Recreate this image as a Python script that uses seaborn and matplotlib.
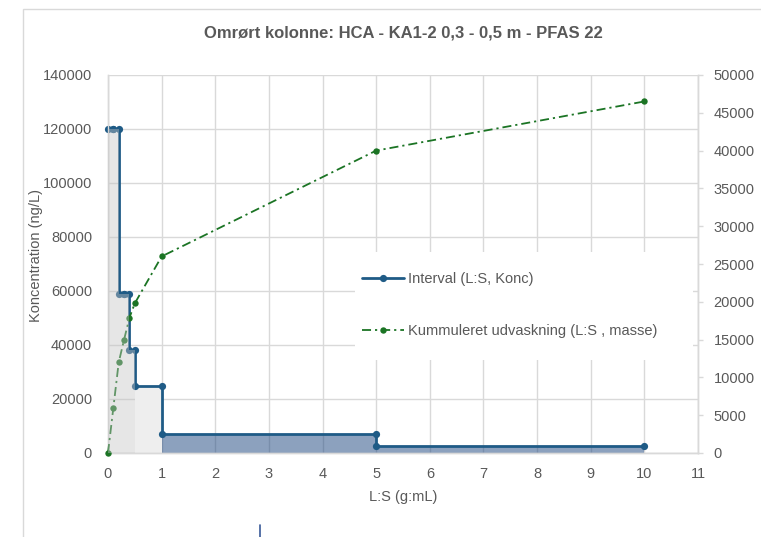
import matplotlib
matplotlib.use("Agg")
import matplotlib.pyplot as plt
import seaborn as sns
import pandas as pd
from matplotlib.patches import Rectangle
from matplotlib.lines import Line2D

# ---------------- data ----------------
title = "Omrørt kolonne: HCA - KA1-2 0,3 - 0,5 m - PFAS 22"
x_label = "L:S (g:mL)"
y_label = "Koncentration (ng/L)"
interval_label = "Interval (L:S, Konc)"
cum_label = "Kummuleret udvaskning (L:S , masse)"

ls_start = [0.0, 0.1, 0.2, 0.3, 0.4, 0.5, 1.0, 5.0]
ls_end = [0.1, 0.2, 0.3, 0.4, 0.5, 1.0, 5.0, 10.0]
conc = [120000, 120000, 59000, 59000, 38000, 25000, 7000, 2600]

cum_ls = [0.0, 0.1, 0.2, 0.3, 0.4, 0.5, 1.0, 5.0, 10.0]
cum_mass = [0, 6000, 12000, 15000, 17900, 19800, 26000, 40000, 46500]

x_ticks = list(range(0, 12))
left_ticks = [0, 20000, 40000, 60000, 80000, 100000, 120000, 140000]
right_ticks = [0, 5000, 10000, 15000, 20000, 25000, 30000, 35000, 40000, 45000, 50000]

# ---------------- style ----------------
BLUE = "#1f5b86"
GREEN = "#1b7424"
FILL_BLUE = "#1a447f"
GRID = "#d9d9d9"
TXT = "#595959"

sns.set_theme(style="white")
plt.rcParams["font.family"] = ["Liberation Sans", "DejaVu Sans"]

W, H = 761, 537
fig = plt.figure(figsize=(W / 100, H / 100), dpi=100)
L, R, T, B = 108, 698, 75, 453
ax = fig.add_axes([L / W, 1 - B / H, (R - L) / W, (B - T) / H])
ax2 = ax.twinx()

# step line data built from the interval arrays
step = pd.DataFrame({
    "ls": [v for s, e in zip(ls_start, ls_end) for v in (s, e)],
    "conc": [c for c in conc for _ in (0, 1)],
})
cum = pd.DataFrame({"ls": cum_ls, "mass": cum_mass})

# grid
ax.set_axisbelow(True)
ax.grid(True, color=GRID, lw=1.0)

# fills
for s, e, c in zip(ls_start, ls_end, conc):
    if e <= 0.5:
        # light grey overlay drawn above both series
        ax2.add_patch(Rectangle((s, 0), e - s, c, transform=ax.transData,
                                fc="#c4c4c4", ec="none", alpha=0.42, zorder=4))
    elif e <= 1.0:
        ax.fill_between([s, e], 0, c, color="#eeeeee", lw=0, zorder=1)
    else:
        ax.fill_between([s, e], 0, c, color=FILL_BLUE, alpha=0.5, lw=0, zorder=1)

# white legend backdrop (covers grid)
ax.add_patch(Rectangle(((355 - L) / (R - L), (B - 360) / (B - T)),
                       (693 - 355) / (R - L), (360 - 252) / (B - T),
                       transform=ax.transAxes, fc="white", ec="none", zorder=1.6))

sns.lineplot(data=step, x="ls", y="conc", ax=ax, sort=False, estimator=None,
             color=BLUE, lw=2.0, marker="o", markersize=5.2, mew=0,
             label=interval_label, legend=False, zorder=3, clip_on=False)
sns.lineplot(data=cum, x="ls", y="mass", ax=ax2, sort=False, estimator=None,
             color=GREEN, lw=1.3, marker="o", markersize=4.6, mew=0,
             linestyle=(0, (5, 2.2, 1.2, 2.2)),
             label=cum_label, legend=False, zorder=3, clip_on=False)

# axes limits / ticks
ax.set_xlim(0, 11)
ax.set_ylim(0, 140000)
ax2.set_ylim(0, 50000)
ax.set_xticks(x_ticks)
ax.set_yticks(left_ticks)
ax2.set_yticks(right_ticks)
ax.set_xticklabels([str(v) for v in x_ticks])
ax.set_yticklabels([str(v) for v in left_ticks])
ax2.set_yticklabels([str(v) for v in right_ticks])

ax.tick_params(axis="x", length=0, pad=10, labelsize=10.5, labelcolor=TXT)
ax.tick_params(axis="y", length=0, pad=11.5, labelsize=10.5, labelcolor=TXT)
ax2.tick_params(axis="y", length=3.6, width=1, color=GRID, direction="out",
                pad=7.5, labelsize=10.5, labelcolor=TXT)

for a in (ax, ax2):
    for side, sp in a.spines.items():
        sp.set_color(GRID)
        sp.set_linewidth(1.0)
    a.spines["top"].set_visible(False)
ax.patch.set_visible(False)
ax2.patch.set_visible(False)

ax.set_xlabel(x_label, fontsize=10.5, color=TXT)
ax.xaxis.set_label_coords(0.5, -(490 - B) / (B - T))
ax.set_ylabel(y_label, fontsize=10.5, color=TXT)
ax.yaxis.set_label_coords((43 - L) / (R - L), (B - 256) / (B - T))
ax2.set_ylabel("")

# legend
h1, l1 = ax.get_legend_handles_labels()
h2, l2 = ax2.get_legend_handles_labels()
leg = ax2.legend(h1 + h2, l1 + l2, loc="upper left",
                 bbox_to_anchor=((362 - L) / (R - L), (B - 272) / (B - T)),
                 frameon=False, borderpad=0, borderaxespad=0,
                 labelspacing=2.6, handlelength=2.9, handletextpad=0.25,
                 fontsize=10.5, labelcolor=TXT)
leg.set_zorder(10)

# title
fig.text((L + R) / 2 / W, 1 - 33 / H, title, ha="center", va="center",
         fontsize=12, fontweight="bold", color=TXT)

# chart-area frame and small caret mark
fig.add_artist(Rectangle((23 / W, -0.1), 1.2, 1 - 9 / H + 0.1,
                         transform=fig.transFigure, fill=False,
                         ec=GRID, lw=1.0))
fig.add_artist(Line2D([260 / W, 260 / W], [0, 12 / H], color="#3a5a98",
                      lw=1.2, transform=fig.transFigure))

fig.savefig("out.png", dpi=100)
